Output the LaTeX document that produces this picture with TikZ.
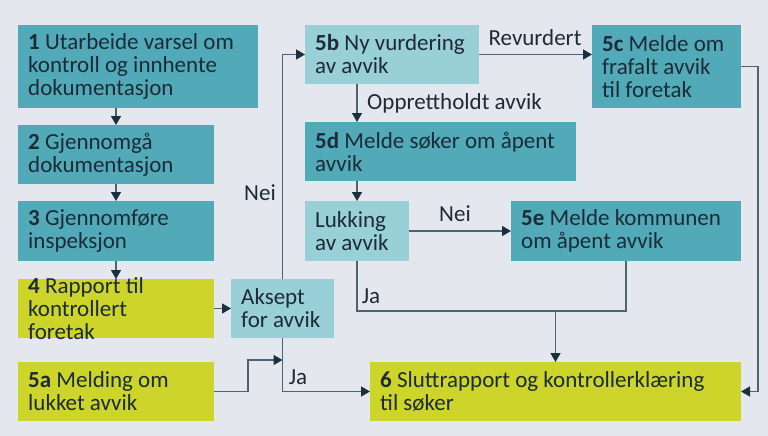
\documentclass[tikz,border=0pt]{standalone}
\usepackage{fontspec}
\setmainfont{Carlito}
\usetikzlibrary{arrows.meta,calc}
\definecolor{bgc}{HTML}{E4E8EE}
\definecolor{tealA}{HTML}{52AAB8}
\definecolor{tealB}{HTML}{99CFD6}
\definecolor{limeA}{HTML}{CDD52B}
\definecolor{txtc}{HTML}{1D2B38}
\definecolor{linec}{HTML}{4D6272}
\definecolor{tipc}{HTML}{1B2F3F}
\tikzset{
  boxbase/.style={inner sep=0pt, outer sep=0pt, draw=none},
  dbox/.style={boxbase, fill=tealA},
  lbox/.style={boxbase, fill=tealB},
  ybox/.style={boxbase, fill=limeA},
  lbl/.style={inner sep=0pt, align=left, text=txtc, font=\fontsize{23}{23}\selectfont},
  conn/.style={draw=linec, line width=1.5pt},
  arr/.style={conn, -{Triangle[length=9pt,width=10pt,color=tipc]}},
  clabel/.style={inner sep=0pt, text=txtc, font=\fontsize{23}{23}\selectfont}
}
\newcommand{\boxat}[7]{% style, name, x1, y1, x2, y2, text
  \node[#1, minimum width={#5-#3}, minimum height={#6-#4}] (#2) at ({(#3+#5)/2},{(#4+#6)/2}) {};
  \node[lbl, anchor=west] (#2t) at ($(#2.west)+(10,0)$) {#7};
}
\begin{document}
\begin{tikzpicture}[x=1pt,y=-1pt]
\useasboundingbox (0,0) rectangle (768,436);
\fill[bgc] (0,0) rectangle (768,436);
\boxat{dbox}{b1}{18}{25}{258}{108}{\textbf{1} Utarbeide varsel om\\kontroll og innhente\\dokumentasjon}
\boxat{dbox}{b2}{18}{125}{214}{184}{\textbf{2} Gjennomgå\\dokumentasjon}
\boxat{dbox}{b3}{18}{201}{214}{261}{\textbf{3} Gjennomføre\\inspeksjon}
\boxat{ybox}{b4}{18}{279}{214}{338}{\textbf{4} Rapport til\\kontrollert\\foretak}
\boxat{ybox}{b5a}{18}{362}{214}{421}{\textbf{5a} Melding om\\lukket avvik}
\boxat{lbox}{ak}{231}{279}{334}{338}{Aksept\\for avvik}
\boxat{lbox}{b5b}{305}{25}{479}{84}{\textbf{5b} Ny vurdering\\av avvik}
\boxat{dbox}{b5c}{592}{25}{741}{108}{\textbf{5c} Melde om\\frafalt avvik\\til foretak}
\boxat{dbox}{b5d}{305}{122}{576}{181}{\textbf{5d} Melde søker om åpent\\avvik}
\boxat{lbox}{luk}{305}{201}{409}{261}{Lukking\\av avvik}
\boxat{dbox}{b5e}{511}{201}{741}{261}{\textbf{5e} Melde kommunen\\om åpent avvik}
\boxat{ybox}{b6}{370}{362}{741}{421}{\textbf{6} Sluttrapport og kontrollerklæring\\til søker}
% connectors
\draw[arr] (b1.south -| b2.north) -- (b2.north);
\draw[arr] (b2.south) -- (b3.north);
\draw[arr] (b3.south) -- (b4.north);
\draw[arr] (b4.east) -- (ak.west);
\draw[arr] (ak.north) |- (b5b.west);
\draw[arr] (ak.south) |- (b6.west);
\coordinate (j) at (ak.south |- 0,360);
\draw[arr] (b5a.east) -- ++(34,0) |- (j);
\draw[arr] (b5b.east) -- (b5b.east -| b5c.west);
\draw[arr] (b5b.south -| luk.north) -- (b5d.north -| luk.north);
\draw[arr] (b5d.south -| luk.north) -- (luk.north);
\draw[arr] (luk.east) -- (luk.east -| b5e.west);
\coordinate (m) at (b6.north |- 0,311);
\draw[conn] (luk.south) |- (m);
\draw[conn] (b5e.south) |- (m);
\draw[arr] (m) -- (b6.north);
\coordinate (cr) at ($(b5c.east)+(17,0)$);
\draw[arr] (b5c.east) -- (cr) |- (b6.east);
% labels
\node[clabel] (lnei1) at (260,193) {Nei};
\node[clabel] (lja1) at (298,377) {Ja};
\node[clabel] (lrev) at (535,38) {Revurdert};
\node[clabel, anchor=west] (lopp) at (367,103) {Opprettholdt avvik};
\node[clabel] (lnei2) at (455,214) {Nei};
\node[clabel] (lja2) at (371,296) {Ja};
\end{tikzpicture}
\end{document}
